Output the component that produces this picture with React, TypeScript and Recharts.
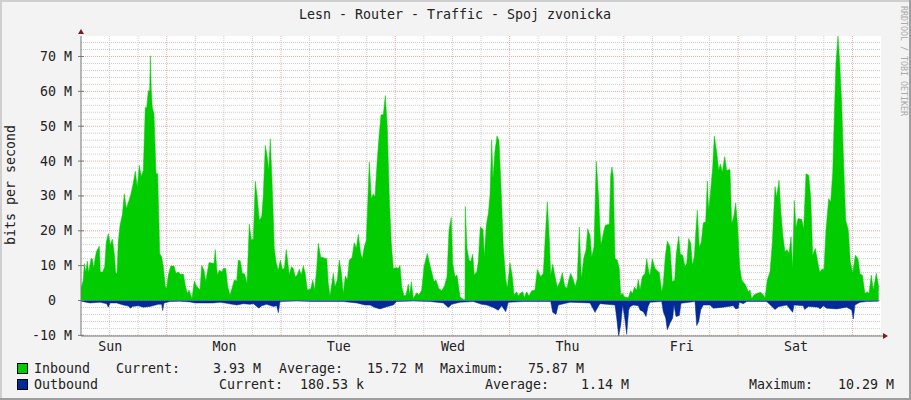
import React from 'react';
import { ComposedChart, Area, XAxis, YAxis, CartesianGrid, ReferenceDot } from 'recharts';

const TITLE = 'Lesn - Router - Traffic - Spoj zvonicka';
const Y_LABEL = 'bits per second';
const WATERMARK = 'RRDTOOL / TOBI OETIKER';
const dayNames = ['Sun', 'Mon', 'Tue', 'Wed', 'Thu', 'Fri', 'Sat'];
const dayNoonHours = [12, 36, 60, 84, 108, 132, 156];
const midnightHours = [24, 48, 72, 96, 120, 144, 168];
const sixHourMarks = [12, 18, 30, 36, 42, 54, 60, 66, 78, 84, 90, 102, 108, 114, 126, 132, 138, 150, 156, 162];
const yMajor = [-10, 0, 10, 20, 30, 40, 50, 60, 70];
const yMinor = [-8, -6, -4, -2, 2, 4, 6, 8, 12, 14, 16, 18, 22, 24, 26, 28, 32, 34, 36, 38, 42, 44, 46, 48, 52, 54, 56, 58, 62, 64, 66, 68, 72, 74];

// [sample, Mbit/s]; one sample = 0.21 h
const inboundSamples: [number, number][] = [
  [0,3.5],[2.3,5.9],[3.3,10.6],[4.7,8.2],[6.3,11.3],[7.7,8],[10,12],[11.3,12],[12.7,9.2],[14.3,12.5],[15.7,14.2],[18.3,15.6],[19.3,8.2],[21.7,8.2],[23.7,9.7],[25.3,16.8],[27.3,19.2],[29.3,15.9],[31.3,17.6],[33.3,13.5],[34.7,7.8],[36,7.8],[37.3,17],[39,21.6],[41.3,24.5],[43.3,30.6],[45.3,26.4],[48,28.7],[50,30.6],[52.3,33.7],[54.3,37.1],[56.3,32.5],[58.3,38.8],[60.3,35.6],[62.3,37.3],[64.3,55.4],[65.7,55.4],[67.3,60.2],[68.7,60.2],[69.3,70.2],[70.3,60.2],[71.3,55.4],[73,53.5],[75,36.4],[76.7,36.4],[77.7,24.9],[78.7,13.5],[80.7,12.5],[82.3,9.7],[84.3,4],[85.7,3.5],[87.3,7.3],[89.7,9.9],[93,9.9],[95,7.8],[97.3,8.2],[99.3,7.5],[102.3,7.6],[104.3,4.4],[106.3,2],[108,3],[111,0.6],[113.3,5.6],[115.7,4],[118.3,3.2],
  [119,3],[120.7,10.1],[123,8.7],[124.7,5.4],[128,10.9],[133,10.6],[134.3,14.6],[136.3,7.3],[138.3,8.7],[141,8.2],[142.3,9.2],[144.7,9.2],[146.7,4],[149,1.6],[151,3.5],[153.3,5.9],[155.7,5.6],[157.3,11.6],[159.3,11.3],[161.3,7.8],[163.7,7.6],[166,4.9],[168.3,21.9],[170.3,17.5],[172.3,17.5],[174.3,34.2],[176.3,29.5],[178.3,23],[180.7,24],[182.3,30.2],[184.3,44.5],[186.3,41.1],[187.7,37.3],[189.3,46.4],[191.3,32.1],[193.3,14.9],[195.3,10.6],[197.3,8.7],[199.3,11.6],[201.3,9],[203.3,9.2],[205.3,14.6],[208.3,7.3],[210.3,9.7],[212.3,9.2],[214.3,6.8],[216.3,7.3],[218.3,9],[220.3,7.3],[222.3,10],[224.3,7.6],[226.3,3],[229.7,3.3],[231.7,5.9],[233.7,3],[235.7,9.2],[237.3,16.4],
  [239.7,12.5],[245.7,12],[247.3,4.9],[249,1.3],[252.3,7.8],[254,4],[256.3,5.9],[258.3,11.6],[260.3,8.2],[262.3,2],[264.3,7],[266.3,5.9],[268.3,11.6],[271,12.3],[273.3,16.6],[275.3,15],[277.3,19],[279.7,13.5],[281.3,12],[283.3,15.4],[285.3,17.3],[288.3,39.7],[290.3,29.2],[292.3,30.6],[294,29.7],[296,39.2],[298,46.9],[300,53.3],[302.3,53.3],[304.3,58.8],[306.3,49.7],[308.3,29.7],[310.3,16.4],[312.3,9.2],[315.7,9.5],[317.3,9.2],[319,10.1],[320.7,4],[323,1.3],[325,1.6],[327.3,4.7],[328.7,1.6],[330.3,5.4],[332.3,0.6],[335.7,2.2],[338,1.6],[340.7,3],[343,9.7],[346.3,13.5],[349,10.1],[351,7.8],[353,5.4],[355,5.9],[357.7,3.5],[360.7,2.8],[363.3,4],[366,6.8],[368,20.2],[370.3,23.8],[371.7,10.6],[374,6.8],[376,7.3],[379,1.1],[382.3,0.3],[384,0.3],[384.3,27],[386,15],[388,11.6],[389.7,11.1],[391.7,13.3],[393.3,7.3],[395.7,8.2],[397.3,11.1],[399.3,21.1],[402,20.4],[403.3,12.5],[405.3,21.6],[407.3,24.9],[409,30.2],[410.7,46.1],[412,34.9],[414,43],[416,47.2],[418,45.9],[420.3,30.6],[422.3,15.4],[424.7,6.3],[426.3,3.5],[429,10.8],[431.3,6.8],[433,1.6],[435.7,2.5],[437.3,1.3],[439,2],[441.7,2.5],[443.3,0.9],[445.7,2.5],[448,1.3],[450.7,2.8],[454,3],[456.3,8.9],[459.7,6.8],[462.3,7.8],[464.3,18.3],[466.3,28.3],[468.3,17.8],[469.7,7.3],[471.7,10.4],[473.7,7.3],[476.3,3.8],[479,5.4],[481.3,8],[483.7,4],[486,3.5],[487.7,5.9],[489.7,7.8],[492.3,5.9],[494.3,4],[496.3,6.3],[498.3,21.1],[500.3,6.3],[503,12.5],[505,14.4],[506.7,20.6],[509,18.7],[510.7,12.5],[513,15.4],[515.3,39.9],[517.7,29.2],
  [519,20.2],[520,15.9],[522.3,19.2],[524.3,21.6],[528.3,21.9],[529.7,35.9],[531,38.3],[532.3,35.4],[534,12],[536.3,11.6],[538.3,9.2],[539.7,1.6],[541.7,2],[543,1.1],[547.3,0.8],[549.7,2.8],[551.7,2],[553.3,3.8],[555.7,3],[557.3,6],[559,3],[561.3,6.8],[564,7.8],[565.7,12],[568,7.8],[569,7.3],[571.3,12],[574,9.2],[578.3,8],[580.7,2.5],[582.3,4.9],[584.3,12.7],[586.3,17],[589,15.4],[591.3,5.4],[593.7,5.9],[595.3,13.5],[597.7,18.4],[599.3,13.3],[601.7,13],[604,9.7],[605.7,10.6],[607.7,17.8],[609.7,16.4],[611.3,10.2],[613.3,12.5],[614.7,19.2],[616.3,25.9],[618.3,15.2],[620.3,16.8],[622.3,22.3],[624.7,22.5],[626.3,34.3],[627.7,25.9],[629.7,31.6],[631.7,38.3],[633.3,47.2],[635.7,42.6],[637.7,37.3],[639.3,39.2],[641.3,36.8],[643.7,41.3],[645.7,37.3],[649,37.6],[650.7,22.1],[652.7,24],[654.7,28],[656.7,21.1],[658.7,9.7],[660.7,5.9],[664.7,4.4],[667.3,2.5],[669,3],[670.7,0.6],[673,1.6],[675.7,2],[679.7,2.4],[682.3,1.6],[684,0.8],[686.3,5.9],[689,8.2],[691.3,16.4],[694,32.7],[695.7,29.7],[698,34.5],[700,24.9],[702,18.3],[704,14],[706,14.6],[708,13.5],[710,18.3],[711.7,9.2],[713.3,28.7],[715,20.9],[717,23.5],[720.7,23.3],[722.7,20.6],[725,36.4],[727.7,35.9],[729.7,29.7],[731.7,13],[734.3,14.9],[736.7,11.1],[738.7,8.2],[741,9],[743,9],[745,20.2],[747.7,29.2],[749.7,28.3],[751.7,36.6],[753.7,56.4],[755,68.3],[757,75.87],[758.7,68.3],[760.7,56.4],[762.3,42.1],[764.7,23],[767.3,20.2],[769.3,11.1],[771.7,7.8],[774.3,13],[777,12],[779,7.6],[781.3,7.3],[784,2],[786.3,2.5],[788,2],[790.3,7.3],[792.3,3],[795.3,7.8],[797.7,3.93],
];

const outboundSamples: [number, number][] = [
  [0,-0.2],[9,-0.7],[19,-0.5],[25.7,-0.9],[27.3,-1.9],[29,-0.7],[35.7,-0.7],[42.3,-1.3],[47.3,-1.6],[49.7,-2.2],[51.3,-1.7],[57.3,-1.5],[62.3,-1.9],[69,-1.7],[77.3,-1.1],[80.7,-1.1],[81.7,-2.9],[83,-0.7],[89,-0.3],[99,-0.2],[109,-0.4],[114,-0.7],[122.3,-0.7],[132.3,-0.7],[139,-0.5],[145.7,-0.8],[155.7,-1.3],[162.3,-0.9],[169,-1.1],[172.3,-0.9],[178,-2.2],[180.7,-1.5],[185.7,-1.1],[192.3,-1.7],[195.7,-1.5],[197.3,-3.5],[199,-0.3],[215.7,-0.15],[232.3,-0.3],[245.7,-0.3],[262.3,-0.3],[275.7,-0.7],[284,-1.3],[289,-1.3],[294,-2],
  [299,-2.4],[305.7,-1.8],[312.3,-1.3],[315.7,-0.3],[332.3,-0.15],[349,-0.3],[362.3,-0.7],[367.3,-2],[370.7,-1.1],[379,-0.5],[392.3,-0.3],[400.7,-1.1],[405.7,-1.3],[412.3,-2],[417.3,-2.8],[420.7,-1.5],[424.7,-3.2],[427.3,-0.5],[442.3,-0.3],[459,-0.3],[469.7,-0.3],[471.7,-3.4],[475,-4],[477.3,-1.3],[489,-0.5],[509,-0.7],[514,-3.4],[517.3,-1.7],
  [519,-0.9],[534,-1.3],[535.7,-5],[537.7,-10.18],[539.7,-7],[541.7,-1.3],[544,-5.6],[545.7,-9.7],[547.7,-2.7],[549,-1.8],[552.3,-1.3],[557.3,-1.5],[559,-2.7],[562.3,-3.2],[565,-4.6],[567,-1.8],[569,-0.5],[580.7,-0.3],[582.3,-3.2],[584.7,-5],[586.3,-8.4],[589,-6.5],[591.7,-5],[593,-1.3],[595,-4.6],[598.3,-4.3],[600,-0.8],[614,-0.3],[615.7,-7.2],[617.7,-6],[619.7,-2.7],[622.3,-1.3],[629,-1.3],[632.3,-2.2],[642.3,-1.9],[652.3,-1.5],[654.7,-2.4],[657.3,-2.2],[658.3,-0.5],[662.3,-0.9],[665.7,-0.3],[685.7,-0.3],[694,-2.6],[697.3,-1.8],[705.7,-1.3],[711.7,-3.4],[713,-1.3],[722.3,-1.5],[723.7,-2.6],[727.3,-1.7],[737.3,-1.9],[739,-2.4],[742.3,-1.5],[745.7,-2.2],[755.7,-2.4],[765.7,-1.9],[770.7,-2.7],[772.3,-5.3],[774,-1.3],[779,-0.5],[785.7,-0.3],[797.7,-0.18],
];

const toRows = (s: [number, number][]) => s.map(([i, v]) => ({ hour: 6 + i * 0.21, v }));
const inboundData = toRows(inboundSamples);
const outboundData = toRows(outboundSamples);

const MONO = '"DejaVu Sans Mono", monospace';
const TEXT = '#222';
const yLabel = (v: number) => (v === 0 ? '0' : `${v} M`);

const YTick = (p: any) => {
  const v = p.payload.value;
  return (
    <g>
      <line x1={78} x2={84} y1={p.y} y2={p.y} stroke="#777" />
      <text x={v === 0 ? 56 : 72} y={p.y + 4.5} textAnchor="end" fontFamily={MONO} fontSize={13.3} fill={TEXT}>{yLabel(v)}</text>
    </g>
  );
};
const XTick = (p: any) => {
  const idx = dayNoonHours.indexOf(p.payload.value);
  return <text x={p.x + 0.7} y={351} textAnchor="middle" fontFamily={MONO} fontSize={13.3} fill={TEXT}>{dayNames[idx]}</text>;
};
const UpArrow = (p: any) => (
  <polygon points={`${p.cx - 3},${p.cy - 2} ${p.cx + 3},${p.cy - 2} ${p.cx},${p.cy - 7}`} fill="#7f1d1d" />
);
const RightArrow = (p: any) => (
  <g>
    <line x1={p.cx} x2={p.cx + 3} y1={336} y2={336} stroke="#777" />
    <polygon points={`${p.cx + 2},333 ${p.cx + 2},339 ${p.cx + 7},336`} fill="#7f1d1d" />
  </g>
);

const legendRows = [
  { name: 'Inbound', color: '#00CC00', y: 373, cells: [[116, 'Current:'], [213, '3.93 M'], [279, 'Average:'], [367, '15.72 M'], [440, 'Maximum:'], [528, '75.87 M']] },
  { name: 'Outbound', color: '#002A97', y: 389, cells: [[219, 'Current:'], [300, '180.53 k'], [485, 'Average:'], [581, '1.14 M'], [749, 'Maximum:'], [838, '10.29 M']] },
];

export default function App() {
  return (
    <div style={{ position: 'absolute', left: 0, top: 0, width: 911, height: 400, background: '#f3f3f3', overflow: 'hidden' }}>
      <ComposedChart width={911} height={400} margin={{ top: 36, right: 30, bottom: 0, left: 0 }} data={inboundData}>
        <CartesianGrid fill="#fff" horizontalValues={yMinor} verticalValues={sixHourMarks} stroke="#cdcdcd" strokeDasharray="1 1" />
        <CartesianGrid horizontalValues={yMajor} verticalValues={midnightHours} stroke="#f0a8a8" strokeDasharray="1 1" />
        <XAxis dataKey="hour" type="number" domain={[6, 174]} ticks={dayNoonHours} allowDataOverflow height={64} tickLine={false} tick={XTick} axisLine={{ stroke: '#777' }} interval={0} />
        <YAxis type="number" domain={[-10.18, 75.88]} ticks={yMajor} allowDataOverflow width={81} tickLine={false} tick={YTick} axisLine={{ stroke: '#777' }} interval={0} />
        <Area data={inboundData} dataKey="v" name="Inbound" type="linear" fill="#00CC00" fillOpacity={1} stroke="#00CC00" strokeWidth={0.5} dot={false} activeDot={false} isAnimationActive={false} />
        <Area data={outboundData} dataKey="v" name="Outbound" type="linear" fill="#002A97" fillOpacity={1} stroke="#002A97" strokeWidth={0.5} dot={false} activeDot={false} isAnimationActive={false} />
        <ReferenceDot x={6} y={75.88} ifOverflow="visible" shape={UpArrow} />
        <ReferenceDot x={174} y={-10} ifOverflow="visible" shape={RightArrow} />
      </ComposedChart>
      <svg width={911} height={400} style={{ position: 'absolute', left: 0, top: 0, pointerEvents: 'none' }}>
        <rect x={0} y={0} width={911} height={2} fill="#cfcfcf" />
        <rect x={0} y={0} width={2} height={400} fill="#cfcfcf" />
        <rect x={909} y={0} width={2} height={400} fill="#9e9e9e" />
        <rect x={0} y={398} width={911} height={2} fill="#9e9e9e" />
        <text x={455} y={19} textAnchor="middle" fontFamily={MONO} fontSize={13.3} fill={TEXT}>{TITLE}</text>
        <text transform="translate(15,185) rotate(-90)" textAnchor="middle" fontFamily={MONO} fontSize={13.3} fill={TEXT}>{Y_LABEL}</text>
        <text transform="translate(901,61) rotate(90)" textAnchor="middle" fontFamily={MONO} fontSize={8.3} fill="#aaa">{WATERMARK}</text>
        {legendRows.map((r) => (
          <g key={r.name}>
            <rect x={17.5} y={r.y - 9.5} width={10} height={10} fill={r.color} stroke="#000" />
            <text x={34} y={r.y} fontFamily={MONO} fontSize={13.3} fill={TEXT}>{r.name}</text>
            {r.cells.map(([x, t]) => (
              <text key={String(x)} x={x as number} y={r.y} fontFamily={MONO} fontSize={13.3} fill={TEXT}>{t}</text>
            ))}
          </g>
        ))}
      </svg>
    </div>
  );
}
